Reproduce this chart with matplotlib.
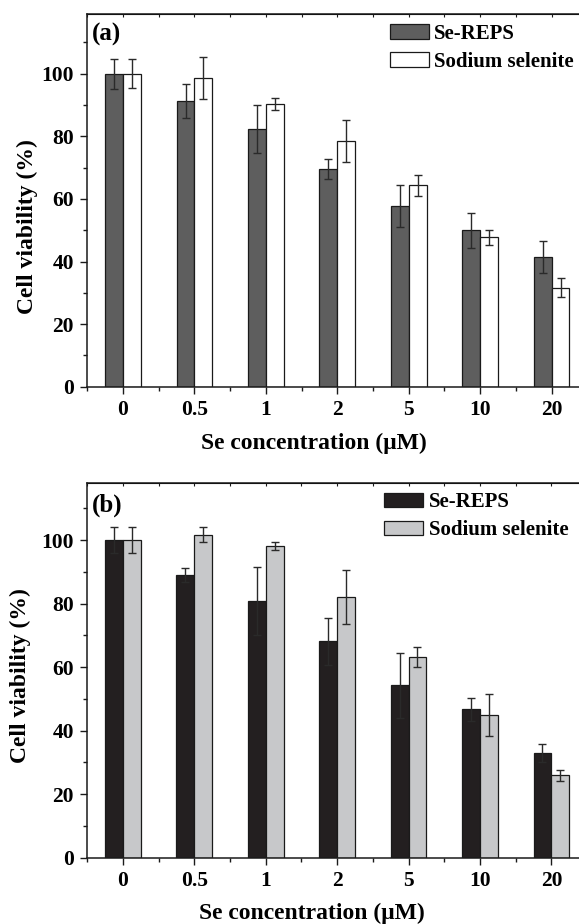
import matplotlib
matplotlib.use('Agg')
import matplotlib.pyplot as plt
import numpy as np
from matplotlib.ticker import MultipleLocator, FixedLocator

plt.rcParams['font.family'] = ['Liberation Serif', 'DejaVu Serif']
plt.rcParams['font.weight'] = 'bold'

conc = ['0', '0.5', '1', '2', '5', '10', '20']
series = ['Se-REPS', 'Sodium selenite']

# panel (a)
a_reps = [100, 91.3, 82.4, 69.6, 57.7, 50.0, 41.4]
a_reps_err = [4.8, 5.4, 7.7, 3.1, 6.6, 5.6, 5.2]
a_sel = [100, 98.7, 90.4, 78.5, 64.4, 47.7, 31.7]
a_sel_err = [4.7, 6.8, 1.9, 6.7, 3.4, 2.4, 3.1]

# panel (b)
b_reps = [100, 89.0, 80.8, 68.1, 54.3, 46.7, 32.9]
b_reps_err = [4.0, 2.3, 10.6, 7.5, 10.3, 3.5, 2.9]
b_sel = [100, 101.7, 98.2, 82.0, 63.3, 44.9, 25.9]
b_sel_err = [4.0, 2.4, 1.2, 8.5, 3.2, 6.6, 1.7]

W, H = 579, 924
fig = plt.figure(figsize=(W / 100, H / 100), dpi=100)


def panel(rect, tag, v1, e1, v2, e2, c1, c2, ytop, tagy, legx, ylab_xy, xlab_xy):
    ax = fig.add_axes(rect)
    x = np.arange(len(conc))
    w = 0.25
    ax.bar(x - w / 2, v1, w, color=c1, edgecolor='#1a1a1a', linewidth=0.9,
           label=series[0], zorder=2)
    ax.bar(x + w / 2, v2, w, color=c2, edgecolor='#1a1a1a', linewidth=0.9,
           label=series[1], zorder=2)
    ax.errorbar(x - w / 2, v1, yerr=e1, fmt='none', ecolor='#2a2a2a',
                elinewidth=1.0, capsize=2.7, capthick=1.0, zorder=3)
    ax.errorbar(x + w / 2, v2, yerr=e2, fmt='none', ecolor='#2a2a2a',
                elinewidth=1.0, capsize=2.7, capthick=1.0, zorder=3)

    ax.set_xlim(-0.5, len(conc) - 0.5)
    ax.set_ylim(0, ytop)
    ax.set_xticks(x)
    ax.set_xticklabels(conc)
    ax.xaxis.set_minor_locator(FixedLocator(x - 0.5))
    ax.yaxis.set_major_locator(MultipleLocator(20))
    ax.yaxis.set_minor_locator(MultipleLocator(10))
    ax.tick_params(which='major', direction='out', length=5, width=1.0,
                   labelsize=15.5, pad=4.5, color='#1a1a1a')
    ax.tick_params(which='minor', direction='out', length=3, width=1.0,
                   color='#1a1a1a')
    for s in ax.spines.values():
        s.set_linewidth(1.1)
        s.set_color('#1a1a1a')
    ax.spines['right'].set_visible(False)

    top = ax.secondary_xaxis('top')
    top.set_xticks(x)
    top.set_xticklabels([])
    top.xaxis.set_minor_locator(FixedLocator(x - 0.5))
    top.tick_params(which='both', direction='in', length=2.5, width=0.8,
                    color='#1a1a1a')

    ax.set_ylabel('Cell viability (%)', fontsize=17, fontweight='bold')
    ax.set_xlabel('Se concentration (\u03bcM)', fontsize=17, fontweight='bold')
    ax.yaxis.set_label_coords(*ylab_xy)
    ax.xaxis.set_label_coords(*xlab_xy)

    ax.text(0.01, tagy, tag, transform=ax.transAxes, fontsize=18,
            fontweight='bold', va='center', ha='left')

    ax.legend(loc='upper left', bbox_to_anchor=(legx, 0.974), frameon=False,
              fontsize=15, handlelength=1.87, handleheight=0.7,
              labelspacing=0.38, handletextpad=0.27, borderpad=0,
              borderaxespad=0)
    return ax


panel([87.3 / W, (H - 386.7) / H, 500 / W, 372.7 / H], '(a)',
      a_reps, a_reps_err, a_sel, a_sel_err, '#5e5e5e', 'white', 119.1,
      0.944, 0.6046, (-0.099, 0.431), (0.453, -0.124))
panel([87.1 / W, 66.3 / H, 500 / W, 375 / H], '(b)',
      b_reps, b_reps_err, b_sel, b_sel_err, '#231f20', '#c7c8ca', 118.1,
      0.9405, 0.594, (-0.112, 0.487), (0.45, -0.1216))

fig.savefig('out.png', dpi=100)
